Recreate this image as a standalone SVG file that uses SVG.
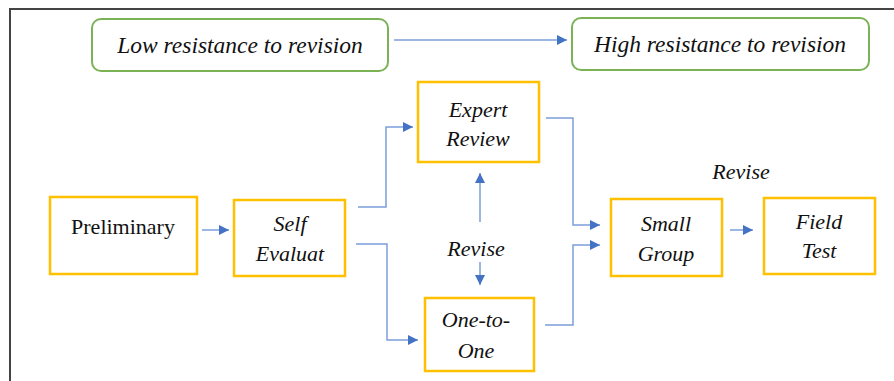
<svg xmlns="http://www.w3.org/2000/svg" width="894" height="381" viewBox="0 0 894 381">
<style>
.frame{fill:none;stroke:#444;stroke-width:2}
.g{fill:#fff;stroke:#7AB356;stroke-width:2}
.y{fill:#fff;stroke:#FFC000;stroke-width:2.5}
.t{font-family:'Liberation Serif','DejaVu Serif',serif;font-style:italic;font-size:22px;fill:#111;text-anchor:middle}
.big{font-size:23.5px}
.n{font-family:'Liberation Serif','DejaVu Serif',serif;font-size:22px;fill:#111;text-anchor:middle}
.c{fill:none;stroke:#7C9FDB;stroke-width:1.5}
</style>
<defs>
<marker id="a" viewBox="0 0 10 10" refX="10" refY="5" markerWidth="10" markerHeight="10" markerUnits="userSpaceOnUse" orient="auto">
<path d="M0,0 L10,5 L0,10 Z" fill="#4472C4"/>
</marker>
</defs>
<rect width="894" height="381" fill="#fff"/>
<path class="frame" d="M10,381 V9 H894"/>
<g id="low"><rect class="g" x="92" y="19" width="296" height="52" rx="9"/><text class="t big" x="240" y="53">Low resistance to revision</text></g>
<g id="high"><rect class="g" x="572" y="18" width="297" height="52" rx="9"/><text class="t big" x="720" y="52">High resistance to revision</text></g>
<g id="prelim"><rect class="y" x="50" y="197" width="147" height="77"/><text class="n" x="123" y="234">Preliminary</text></g>
<g id="self"><rect class="y" x="234" y="200" width="111" height="76"/><text class="t" x="290" y="231">Self</text><text class="t" x="290" y="261">Evaluat</text></g>
<g id="expert"><rect class="y" x="418" y="82" width="121" height="80"/><text class="t" x="478" y="117">Expert</text><text class="t" x="478" y="146">Review</text></g>
<g id="one"><rect class="y" x="425" y="298" width="109" height="73"/><text class="t" x="476" y="327">One-to-</text><text class="t" x="476" y="358">One</text></g>
<g id="small"><rect class="y" x="611" y="199" width="111" height="77"/><text class="t" x="666" y="231">Small</text><text class="t" x="666" y="261">Group</text></g>
<g id="field"><rect class="y" x="764" y="198" width="111" height="76"/><text class="t" x="819" y="229">Field</text><text class="t" x="819" y="258">Test</text></g>
<g id="labels"><text class="t" x="476" y="256">Revise</text><text class="t" x="741" y="179">Revise</text></g>
<g id="connectors">
<path class="c" d="M394,40 H567" marker-end="url(#a)"/>
<path class="c" d="M202,230 H229" marker-end="url(#a)"/>
<path class="c" d="M358,207 H386 V127 H413" marker-end="url(#a)"/>
<path class="c" d="M356,244 H387 V340 H418" marker-end="url(#a)"/>
<path class="c" d="M480,222 V173" marker-end="url(#a)"/>
<path class="c" d="M480,262 V285" marker-end="url(#a)"/>
<path class="c" d="M546,118 H573 V225 H600" marker-end="url(#a)"/>
<path class="c" d="M545,325 H573 V245 H600" marker-end="url(#a)"/>
<path class="c" d="M730,230 H753" marker-end="url(#a)"/>
</g>
</svg>
